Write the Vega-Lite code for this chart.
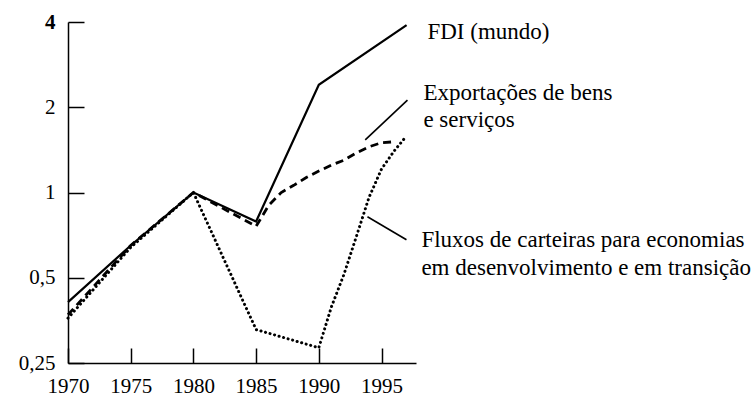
{
  "$schema": "https://vega.github.io/schema/vega-lite/v6.json",
  "autosize": {"type": "none"},
  "width": 348,
  "height": 341,
  "padding": {"left": 68, "top": 22, "right": 340, "bottom": 40},
  "background": "white",
  "config": {
    "view": {"stroke": null},
    "font": "Liberation Serif, DejaVu Serif, serif"
  },
  "datasets": {
    "series": [
      {"serie": "FDI", "year": 1970, "value": 0.41},
      {"serie": "FDI", "year": 1975, "value": 0.65},
      {"serie": "FDI", "year": 1980, "value": 1.0},
      {"serie": "FDI", "year": 1985, "value": 0.79},
      {"serie": "FDI", "year": 1990, "value": 2.4},
      {"serie": "FDI", "year": 1997, "value": 3.9},
      {"serie": "Exportações", "year": 1970, "value": 0.37},
      {"serie": "Exportações", "year": 1975, "value": 0.65},
      {"serie": "Exportações", "year": 1980, "value": 1.0},
      {"serie": "Exportações", "year": 1985, "value": 0.76},
      {"serie": "Exportações", "year": 1986, "value": 0.9},
      {"serie": "Exportações", "year": 1987, "value": 1.0},
      {"serie": "Exportações", "year": 1988, "value": 1.06},
      {"serie": "Exportações", "year": 1989, "value": 1.13},
      {"serie": "Exportações", "year": 1990, "value": 1.19},
      {"serie": "Exportações", "year": 1991, "value": 1.25},
      {"serie": "Exportações", "year": 1992, "value": 1.3},
      {"serie": "Exportações", "year": 1993, "value": 1.38},
      {"serie": "Exportações", "year": 1994, "value": 1.45},
      {"serie": "Exportações", "year": 1995, "value": 1.5},
      {"serie": "Exportações", "year": 1996, "value": 1.51},
      {"serie": "Carteiras", "year": 1970, "value": 0.36},
      {"serie": "Carteiras", "year": 1975, "value": 0.64},
      {"serie": "Carteiras", "year": 1980, "value": 1.0},
      {"serie": "Carteiras", "year": 1985, "value": 0.328},
      {"serie": "Carteiras", "year": 1990, "value": 0.283},
      {"serie": "Carteiras", "year": 1991, "value": 0.394},
      {"serie": "Carteiras", "year": 1992, "value": 0.513},
      {"serie": "Carteiras", "year": 1993, "value": 0.7},
      {"serie": "Carteiras", "year": 1994, "value": 0.96},
      {"serie": "Carteiras", "year": 1995, "value": 1.21},
      {"serie": "Carteiras", "year": 1996, "value": 1.4},
      {"serie": "Carteiras", "year": 1997, "value": 1.585}
    ],
    "leaders": [
      {"grp": "exp", "year": 1993.7, "value": 1.535},
      {"grp": "exp", "year": 1997.07, "value": 2.12},
      {"grp": "port", "year": 1993.88, "value": 0.821},
      {"grp": "port", "year": 1996.99, "value": 0.681}
    ],
    "labels": [
      {"text": "FDI (mundo)", "year": 1998.66, "value": 3.49},
      {"text": "Exportações de bens", "year": 1998.34, "value": 2.124},
      {"text": "e serviços", "year": 1998.34, "value": 1.706},
      {"text": "Fluxos de carteiras para economias", "year": 1998.18, "value": 0.643},
      {"text": "em desenvolvimento e em transição", "year": 1998.18, "value": 0.512}
    ]
  },
  "encoding": {
    "x": {
      "field": "year",
      "type": "quantitative",
      "scale": {"domain": [1970, 1997.75], "nice": false, "zero": false},
      "axis": {
        "title": null,
        "values": [1970, 1975, 1980, 1985, 1990, 1995],
        "format": "d",
        "grid": false,
        "domainColor": "black",
        "domainWidth": 1.5,
        "tickColor": "black",
        "tickWidth": 1.5,
        "tickSize": -15,
        "labelPadding": 27,
        "labelFont": "Liberation Serif, DejaVu Serif, serif",
        "labelFontSize": 21,
        "labelColor": "black",
        "labelFlush": false,
        "labelOverlap": false
      }
    },
    "y": {
      "field": "value",
      "type": "quantitative",
      "scale": {"type": "log", "base": 2, "domain": [0.25, 4], "nice": false, "zero": false},
      "axis": {
        "title": null,
        "values": [0.25, 0.5, 1, 2, 4],
        "labelExpr": "replace(format(datum.value, '~g'), '.', ',')",
        "grid": false,
        "domainColor": "black",
        "domainWidth": 1.5,
        "tickColor": "black",
        "tickWidth": 1.5,
        "tickSize": -16,
        "labelPadding": 29,
        "labelFont": "Liberation Serif, DejaVu Serif, serif",
        "labelFontSize": 21,
        "labelFontWeight": {"condition": {"test": "datum.value == 4", "value": "bold"}, "value": "normal"},
        "labelColor": "black",
        "labelFlush": false,
        "labelOverlap": false
      }
    }
  },
  "layer": [
    {
      "data": {"name": "series"},
      "transform": [{"filter": "datum.serie === 'FDI'"}],
      "mark": {"type": "line", "color": "black", "strokeWidth": 2.2},
      "encoding": {"order": {"field": "year"}}
    },
    {
      "data": {"name": "series"},
      "transform": [{"filter": "datum.serie === 'Exportações'"}],
      "mark": {"type": "line", "color": "black", "strokeWidth": 2.8, "strokeDash": [8, 5]},
      "encoding": {"order": {"field": "year"}}
    },
    {
      "data": {"name": "series"},
      "transform": [{"filter": "datum.serie === 'Carteiras'"}],
      "mark": {"type": "line", "color": "black", "strokeWidth": 3, "strokeDash": [0.1, 4.6], "strokeCap": "round"},
      "encoding": {"order": {"field": "year"}}
    },
    {
      "data": {"name": "leaders"},
      "mark": {"type": "line", "color": "black", "strokeWidth": 1.6},
      "encoding": {"detail": {"field": "grp"}}
    },
    {
      "data": {"name": "labels"},
      "mark": {"type": "text", "align": "left", "baseline": "alphabetic", "font": "Liberation Serif, DejaVu Serif, serif", "fontSize": 23, "color": "black"},
      "encoding": {"text": {"field": "text"}}
    }
  ]
}
